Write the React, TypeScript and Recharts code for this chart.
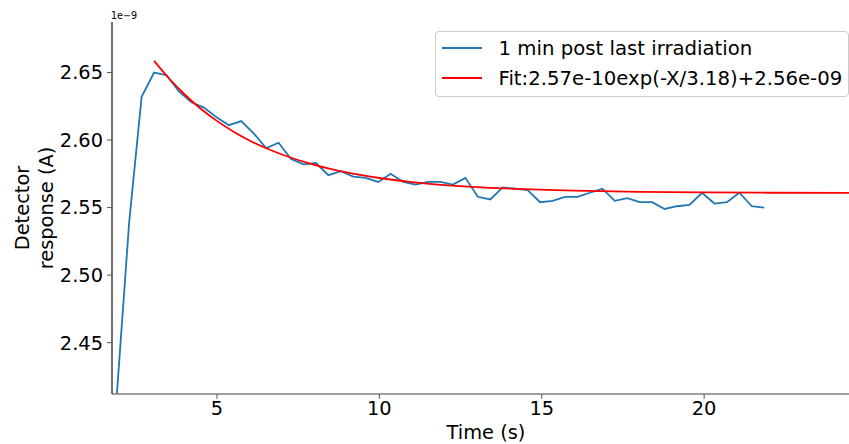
import React from 'react';
import { LineChart, Line, XAxis, YAxis, Legend } from 'recharts';

const TIME = [
  1.914, 2.297, 2.681, 3.064, 3.448, 3.831, 4.214, 4.598, 4.981, 5.365,
  5.748, 6.131, 6.515, 6.898, 7.282, 7.665, 8.048, 8.432, 8.815, 9.198,
  9.582, 9.965, 10.349, 10.732, 11.115, 11.499, 11.882, 12.266, 12.649, 13.032,
  13.416, 13.799, 14.183, 14.566, 14.95, 15.333, 15.716, 16.1, 16.483, 16.867,
  17.25, 17.633, 18.017, 18.4, 18.784, 19.167, 19.55, 19.934, 20.317, 20.701,
  21.084, 21.467, 21.851,
];
const RESPONSE = [
  2.41, 2.539, 2.632, 2.65, 2.648, 2.636, 2.628, 2.624, 2.617, 2.611,
  2.614, 2.605, 2.594, 2.598, 2.586, 2.582, 2.583, 2.574, 2.577, 2.573,
  2.572, 2.569, 2.575, 2.569, 2.567, 2.569, 2.569, 2.567, 2.572, 2.558,
  2.556, 2.565, 2.564, 2.563, 2.554, 2.555, 2.558, 2.558, 2.561, 2.564,
  2.555, 2.557, 2.554, 2.554, 2.549, 2.551, 2.552, 2.561, 2.553, 2.554,
  2.561, 2.551, 2.55,
];
const FIT_TIME = [3.064, 3.5, 4, 4.5, 5, 5.5, 6, 6.5, 7, 8, 9, 10, 11, 12, 13, 14, 16, 18, 20, 22, 24.7];
const FIT_VALUE = [
  2.6587, 2.6463, 2.6339, 2.6232, 2.6142, 2.6064, 2.5997, 2.5941, 2.5893, 2.5816,
  2.576, 2.5719, 2.5689, 2.5667, 2.5651, 2.564, 2.5625, 2.5617, 2.5613, 2.561, 2.5609,
];
const X_TICKS = [5, 10, 15, 20];
const Y_TICKS = [2.45, 2.5, 2.55, 2.6, 2.65];
const SERIES_NAMES = ['1 min post last irradiation', 'Fit:2.57e-10exp(-X/3.18)+2.56e-09'];

const dataData = TIME.map((t, i) => ({ t, v: RESPONSE[i] }));
const fitData = FIT_TIME.map((t, i) => ({ t, v: FIT_VALUE[i] }));

const FONT = 'DejaVu Sans, sans-serif';
const BLUE = '#1f77b4';
const RED = '#ff0000';

const LegendBox = (props: any) => {
  const payload = props.payload || [];
  return (
    <div
      style={{
        width: 412,
        height: 64,
        border: '1px solid #cccccc',
        borderRadius: 4,
        background: 'rgba(255,255,255,0.8)',
        boxSizing: 'content-box',
      }}
    >
      <svg width={412} height={64} style={{ display: 'block' }}>
        {payload.map((p: any, i: number) => (
          <g key={i}>
            <line x1={6} x2={46} y1={16 + i * 30} y2={16 + i * 30} stroke={p.color} strokeWidth={1.8} />
            <text
              x={62.5}
              y={16 + i * 30}
              dominantBaseline="central"
              fontFamily={FONT}
              fontSize={19.7}
              fill="#000"
            >
              {p.value}
            </text>
          </g>
        ))}
      </svg>
    </div>
  );
};

export default function App() {
  return (
    <div style={{ position: 'absolute', left: 0, top: 0, width: 849, height: 444, background: '#fff' }}>
      <LineChart width={849} height={444} margin={{ top: 22, right: 0, bottom: 0, left: 0 }}>
        <XAxis
          xAxisId={0}
          dataKey="t"
          type="number"
          domain={[1.769, 24.46]}
          allowDataOverflow
          ticks={X_TICKS}
          height={50}
          tickSize={5}
          tickMargin={2.5}
          axisLine={{ stroke: '#7f7f7f', strokeWidth: 1.6 }}
          tickLine={{ stroke: '#555' }}
          tick={{ fontSize: 19.4, fontFamily: FONT, fill: '#000' }}
          label={() => (
            <text x={486} y={439} textAnchor="middle" fontFamily={FONT} fontSize={19.4} fill="#000">
              Time (s)
            </text>
          )}
        />
        <XAxis
          xAxisId="top"
          orientation="top"
          dataKey="t"
          type="number"
          domain={[1.769, 24.46]}
          allowDataOverflow
          height={0}
          tick={false}
          tickLine={false}
          axisLine={{ stroke: '#7f7f7f', strokeWidth: 1.6 }}
        />
        <YAxis
          type="number"
          domain={[2.412, 2.6874]}
          allowDataOverflow
          ticks={Y_TICKS}
          width={112}
          tickSize={5}
          tickMargin={4}
          tickFormatter={(v: number) => v.toFixed(2)}
          axisLine={{ stroke: '#333', strokeWidth: 1.4 }}
          tickLine={{ stroke: '#555' }}
          tick={{ fontSize: 19.4, fontFamily: FONT, fill: '#000' }}
          label={() => (
            <g>
              <text
                x={22}
                y={208}
                transform="rotate(-90, 22, 208)"
                textAnchor="middle"
                dominantBaseline="central"
                fontFamily={FONT}
                fontSize={19.4}
                fill="#000"
              >
                Detector
              </text>
              <text
                x={46}
                y={208}
                transform="rotate(-90, 46, 208)"
                textAnchor="middle"
                dominantBaseline="central"
                fontFamily={FONT}
                fontSize={19.4}
                fill="#000"
              >
                response (A)
              </text>
              <text x={111} y={18.5} fontFamily={FONT} fontSize={9.6} fill="#000">
                1e−9
              </text>
            </g>
          )}
        />
        <Line
          data={dataData}
          dataKey="v"
          name={SERIES_NAMES[0]}
          stroke={BLUE}
          strokeWidth={1.8}
          dot={false}
          activeDot={false}
          isAnimationActive={false}
          type="linear"
        />
        <Line
          data={fitData}
          dataKey="v"
          name={SERIES_NAMES[1]}
          stroke={RED}
          strokeWidth={1.8}
          dot={false}
          activeDot={false}
          isAnimationActive={false}
          type="monotone"
        />
        <Legend
          layout="vertical"
          align="center"
          verticalAlign="middle"
          content={LegendBox}
          wrapperStyle={{ left: 435, top: 31, width: 414, height: 66 }}
        />
      </LineChart>
    </div>
  );
}
